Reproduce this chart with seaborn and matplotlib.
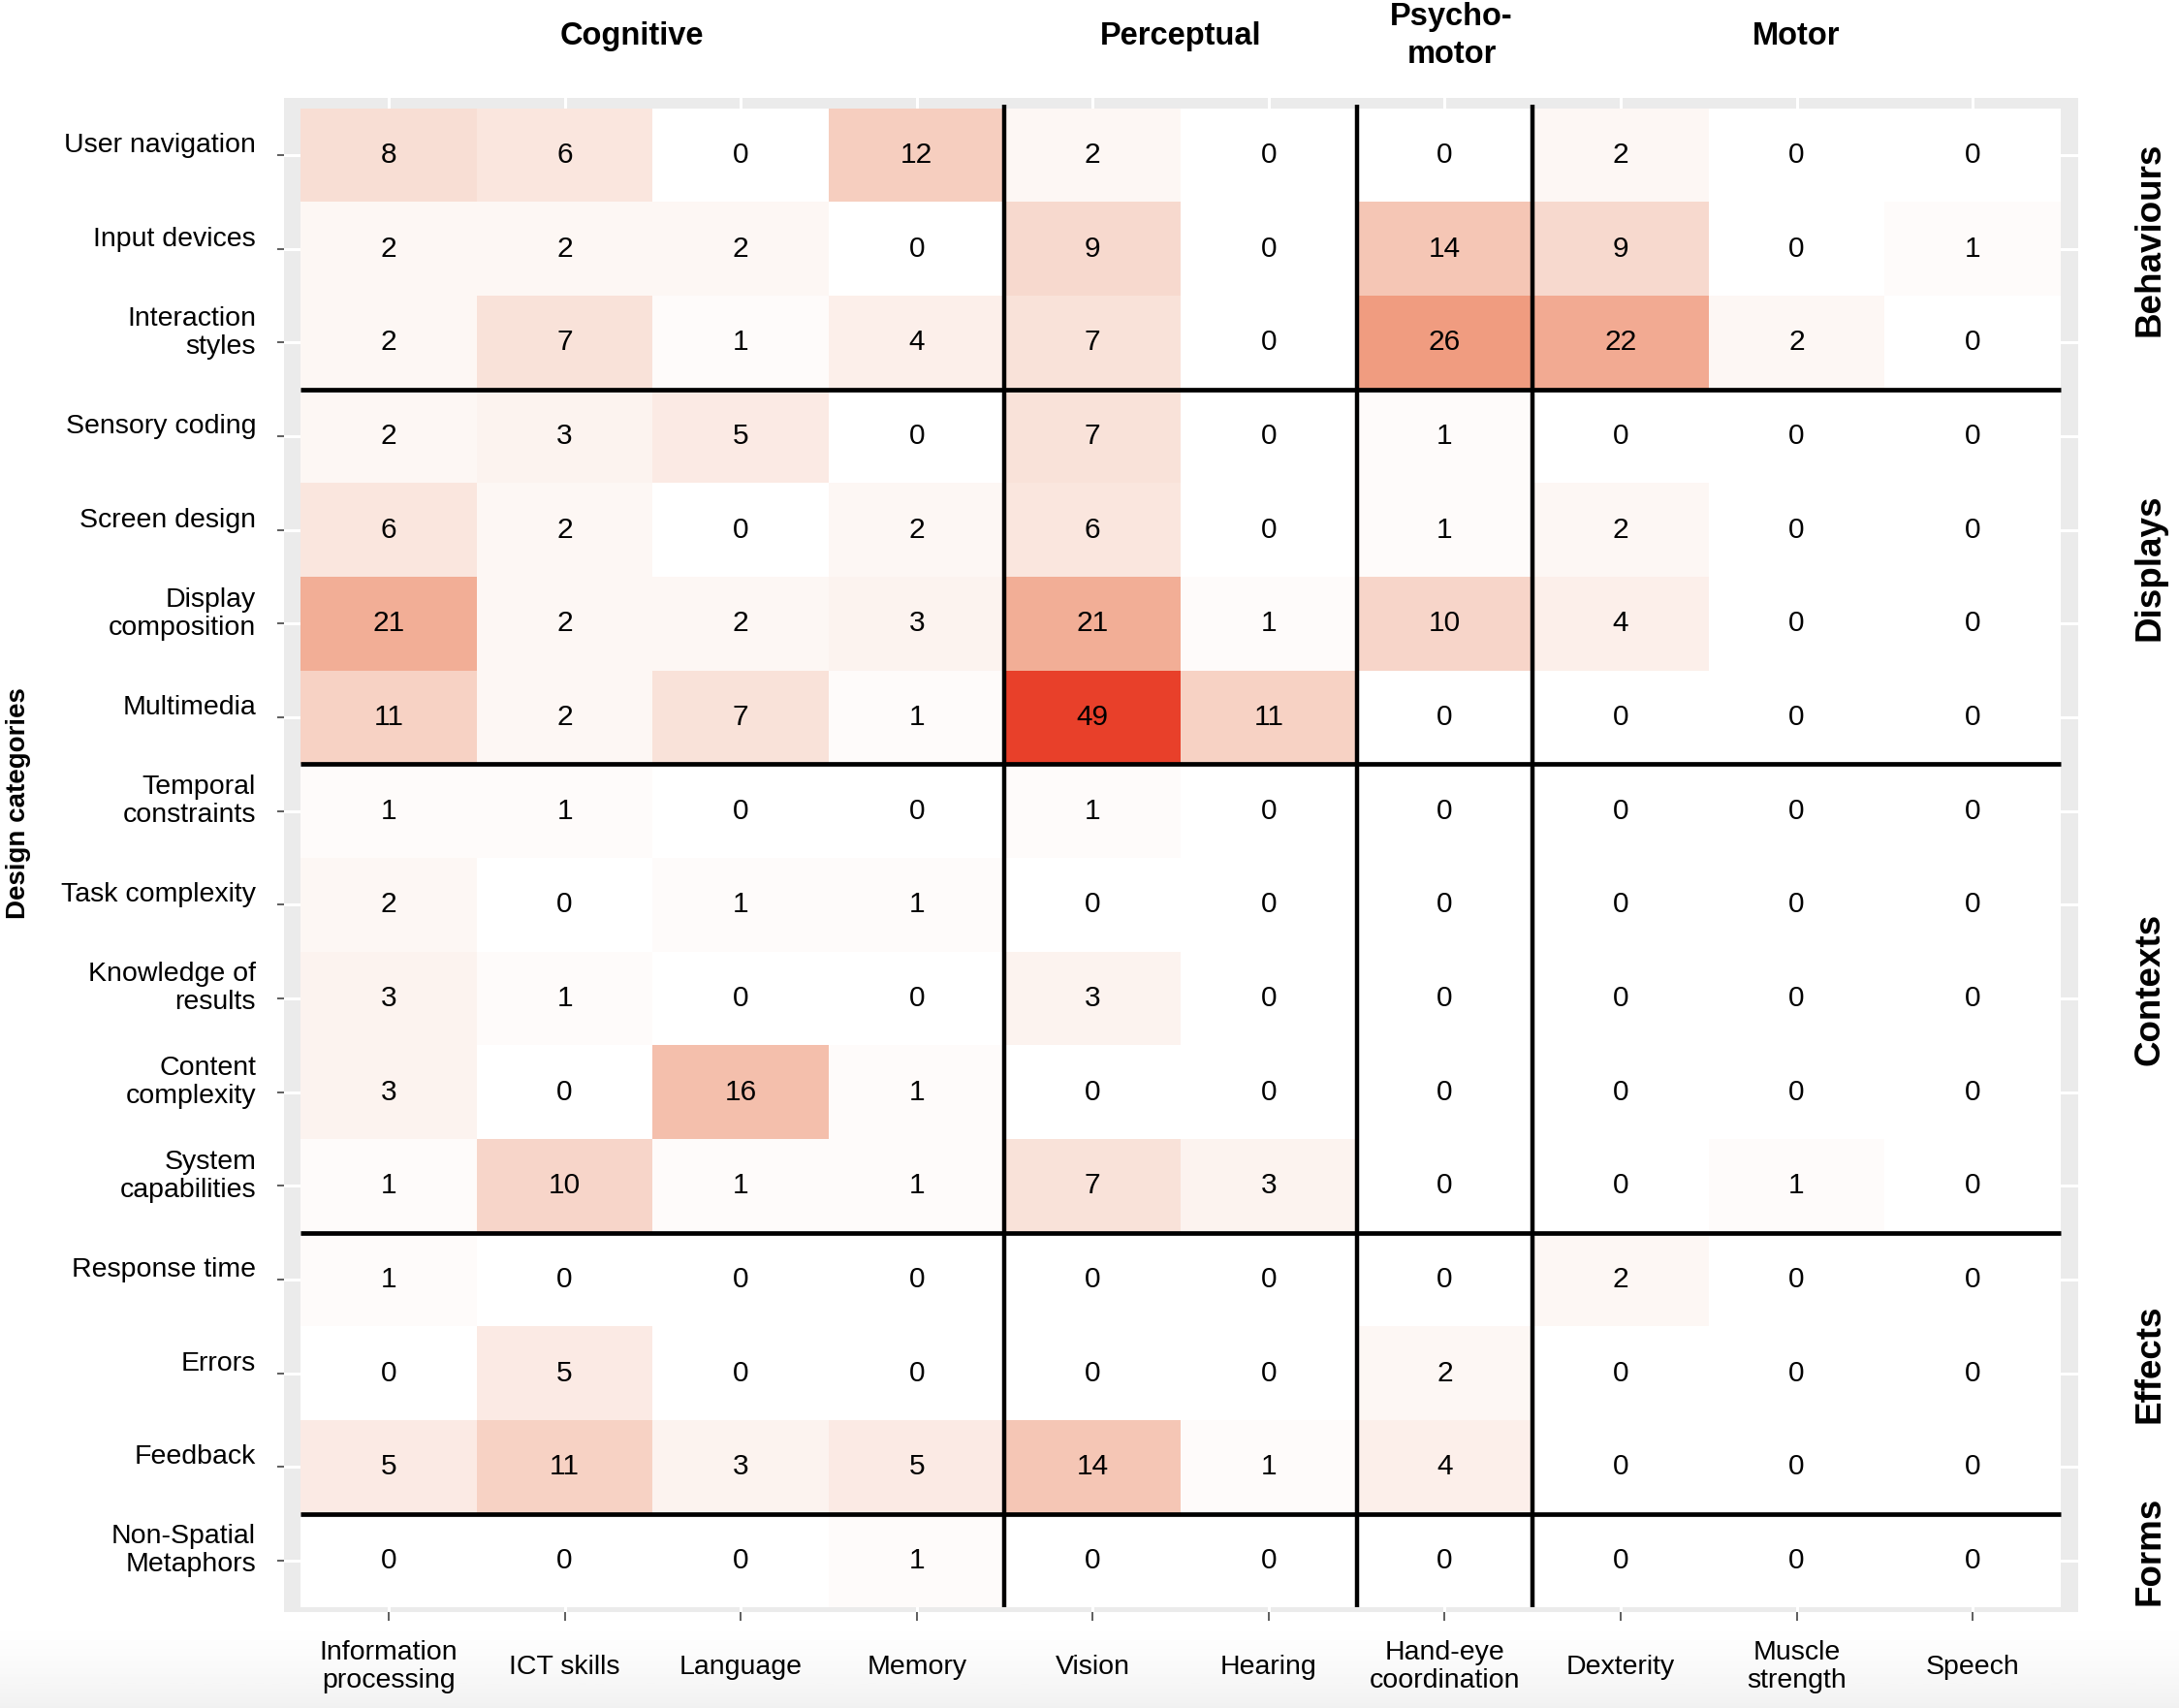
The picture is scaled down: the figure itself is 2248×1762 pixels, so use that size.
import numpy as np
import pandas as pd
import seaborn as sns
import matplotlib.pyplot as plt
import matplotlib.transforms as mtransforms
from matplotlib.colors import LinearSegmentedColormap

# Design categories (rows) and ability columns
rows = ['User navigation', 'Input devices', 'Interaction\nstyles', 'Sensory coding',
        'Screen design', 'Display\ncomposition', 'Multimedia', 'Temporal\nconstraints',
        'Task complexity', 'Knowledge of\nresults', 'Content\ncomplexity',
        'System\ncapabilities', 'Response time', 'Errors', 'Feedback',
        'Non-Spatial\nMetaphors']
cols = ['Information\nprocessing', 'ICT skills', 'Language', 'Memory', 'Vision',
        'Hearing', 'Hand-eye\ncoordination', 'Dexterity', 'Muscle\nstrength', 'Speech']

counts = [
    [8, 6, 0, 12, 2, 0, 0, 2, 0, 0],
    [2, 2, 2, 0, 9, 0, 14, 9, 0, 1],
    [2, 7, 1, 4, 7, 0, 26, 22, 2, 0],
    [2, 3, 5, 0, 7, 0, 1, 0, 0, 0],
    [6, 2, 0, 2, 6, 0, 1, 2, 0, 0],
    [21, 2, 2, 3, 21, 1, 10, 4, 0, 0],
    [11, 2, 7, 1, 49, 11, 0, 0, 0, 0],
    [1, 1, 0, 0, 1, 0, 0, 0, 0, 0],
    [2, 0, 1, 1, 0, 0, 0, 0, 0, 0],
    [3, 1, 0, 0, 3, 0, 0, 0, 0, 0],
    [3, 0, 16, 1, 0, 0, 0, 0, 0, 0],
    [1, 10, 1, 1, 7, 3, 0, 0, 1, 0],
    [1, 0, 0, 0, 0, 0, 0, 2, 0, 0],
    [0, 5, 0, 0, 0, 0, 2, 0, 0, 0],
    [5, 11, 3, 5, 14, 1, 4, 0, 0, 0],
    [0, 0, 0, 1, 0, 0, 0, 0, 0, 0],
]

col_groups = ['Cognitive', 'Perceptual', 'Psycho-\nmotor', 'Motor']
col_group_sizes = [4, 2, 1, 3]
row_groups = ['Behaviours', 'Displays', 'Contexts', 'Effects', 'Forms']
row_group_sizes = [3, 4, 5, 3, 1]

df = pd.DataFrame(counts, index=rows, columns=cols)

plt.rcParams['font.family'] = ['Liberation Sans', 'DejaVu Sans']

# white -> red, picked off the reference tiles
cmap = LinearSegmentedColormap.from_list('wr', [
    (0.0, '#FFFFFF'), (8 / 49, '#F8DDD3'), (14 / 49, '#F5C6B5'),
    (26 / 49, '#F09C80'), (1.0, '#E8402A')])

fig = plt.figure(figsize=(22.48, 17.62), dpi=100)

# light grey fade at the very bottom of the screenshot
bg = fig.add_axes([0, 0, 1, 0.05], zorder=-5)
bg.imshow(np.linspace(0, 1, 50)[:, None] ** 1.5, aspect='auto', cmap='Greys',
          vmin=0, vmax=9, extent=[0, 1, 0, 1])
bg.axis('off')

ax = fig.add_axes([0.13034, 0.05619, 0.8234, 0.88649])
ax.set_facecolor('#EBEBEB')
sns.heatmap(df, ax=ax, cmap=cmap, vmin=0, vmax=49, cbar=False, annot=True, fmt='d',
            annot_kws={'fontsize': 21.5, 'color': 'black'})

ax.set_xlim(-0.095, len(cols) + 0.1)
ax.set_ylim(len(rows) + 0.05, -0.11)
for s in ax.spines.values():
    s.set_visible(False)
ax.set_axisbelow(True)
ax.grid(True, color='white', linewidth=2.2)

ax.set_xlabel('')
ax.set_ylabel('')
ax.tick_params(axis='x', length=6.5, width=1.1, color='#333333', pad=34.5,
               labelsize=20.5, rotation=0)
ax.tick_params(axis='y', length=5, width=1.1, color='#333333', pad=15.8,
               labelsize=20.5, rotation=0)
for lab in ax.get_xticklabels():
    lab.set_va('center')
    lab.set_linespacing(1.15)
offset = mtransforms.ScaledTranslation(0, 10 / 100, fig.dpi_scale_trans)
for lab in ax.get_yticklabels():
    lab.set_ha('right')
    lab.set_linespacing(1.15)
    lab.set_transform(lab.get_transform() + offset)

# group separators
col_edges = np.cumsum(col_group_sizes)[:-1]
row_edges = np.cumsum(row_group_sizes)[:-1]
for x in col_edges:
    ax.plot([x, x], [-0.04, len(rows)], color='black', lw=3.2, solid_capstyle='butt')
for y in row_edges:
    ax.plot([0, len(cols)], [y, y], color='black', lw=3.4, solid_capstyle='butt')

# column group headers
top = mtransforms.blended_transform_factory(ax.transData, fig.transFigure)
col_starts = np.concatenate([[0], np.cumsum(col_group_sizes)[:-1]])
header_shift = [-0.12, 0, 0.04, 0]
for name, start, size, dx in zip(col_groups, col_starts, col_group_sizes, header_shift):
    ax.text(start + size / 2 + dx, 0.979, name, transform=top, ha='center', va='center',
            fontsize=23.5, fontweight='bold', linespacing=1.35)

# row group labels on the right
right = mtransforms.blended_transform_factory(fig.transFigure, ax.transData)
row_starts = np.concatenate([[0], np.cumsum(row_group_sizes)[:-1]])
for name, start, size in zip(row_groups, row_starts, row_group_sizes):
    ax.text(0.9867, start + size / 2 - 0.1, name, transform=right, ha='center',
            va='center', rotation=90, fontsize=26.5, fontweight='bold')

fig.text(0.0085, 0.530, 'Design categories', rotation=90, ha='center', va='center',
         fontsize=20, fontweight='bold')

plt.savefig('out.png', dpi=100)
